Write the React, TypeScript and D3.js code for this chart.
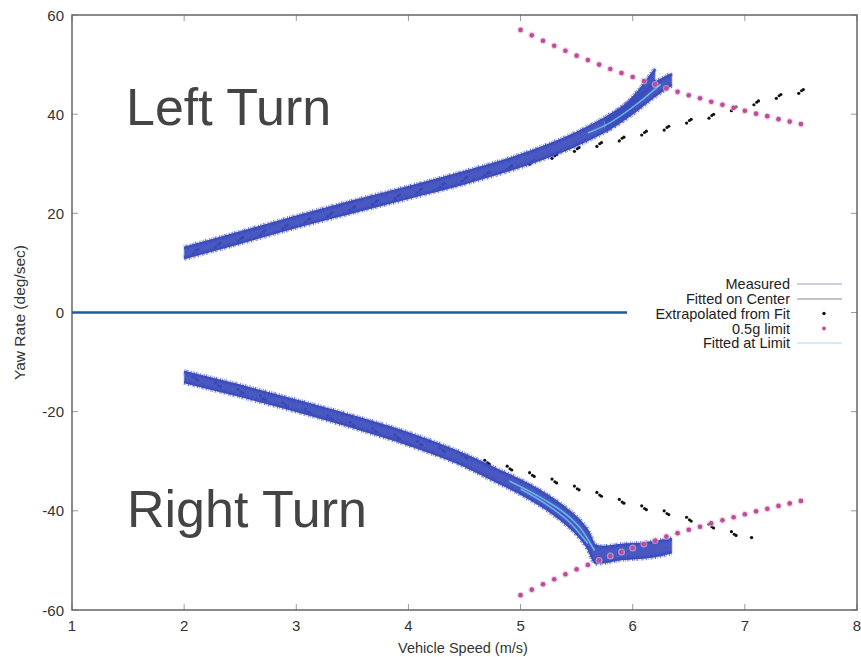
import React from "react";
import * as d3 from "d3";

// ---------- data ----------
const xTicks = [1, 2, 3, 4, 5, 6, 7, 8];
const yTicks = [-60, -40, -20, 0, 20, 40, 60];

// Measured, left turn (centre of the noisy band and its half width)
const leftSpeed = [2.0, 2.5, 3.0, 3.5, 4.0, 4.5, 5.0, 5.5, 5.8, 6.0, 6.2, 6.35];
const leftYaw = [12.0, 15.1, 18.3, 21.3, 24.2, 27.2, 30.6, 35.0, 38.5, 41.5, 45.0, 47.0];
const leftHalf = [1.05, 1.05, 1.05, 1.1, 1.1, 1.15, 1.15, 1.25, 1.35, 1.35, 1.3, 1.1];
// second run that ends a little earlier (upper prong)
const leftProngSpeed = [5.75, 5.9, 6.05, 6.2];
const leftProngYaw = [37.6, 40.0, 43.5, 48.0];
const leftProngHalf = [1.0, 1.1, 1.1, 1.1];

// Measured, right turn
const rightSpeed = [2.0, 2.5, 3.0, 3.5, 4.0, 4.5, 4.75, 5.0, 5.25, 5.4, 5.5, 5.6, 5.67, 5.75, 5.9, 6.1, 6.25, 6.35];
const rightYaw = [-13.0, -15.8, -18.8, -22.0, -25.5, -29.8, -32.5, -35.2, -38.5, -41.0, -43.0, -45.8, -48.8, -48.8, -48.3, -48.0, -47.5, -47.0];
const rightHalf = [1.05, 1.05, 1.05, 1.1, 1.15, 1.15, 1.25, 1.35, 1.45, 1.55, 1.65, 1.75, 1.75, 1.55, 1.45, 1.45, 1.45, 1.35];

// Fitted at limit
const fitLimLeftSpeed = [5.6, 5.8, 6.0, 6.25];
const fitLimLeftYaw = [36.2, 38.3, 41.4, 46.0];
const fitLimRightASpeed = [4.9, 5.2, 5.4, 5.55, 5.66];
const fitLimRightAYaw = [-34.0, -37.6, -40.6, -44.0, -48.0];
const fitLimRightBSpeed = [5.0, 5.25, 5.45, 5.6];
const fitLimRightBYaw = [-35.6, -39.0, -42.6, -46.6];

// Extrapolated from fit
const extLeftSpeed = [2.1, 2.3, 2.5, 2.7, 2.9, 3.1, 3.3, 3.5, 3.7, 3.9, 4.1, 4.3, 4.5, 4.7, 4.9, 5.1, 5.3, 5.5, 5.7, 5.9, 6.1, 6.3, 6.5, 6.7, 6.9, 7.1, 7.3, 7.5];
const extLeftYaw = [12.3, 13.6, 14.8, 16.1, 17.3, 18.6, 19.8, 21.0, 22.2, 23.4, 24.6, 25.7, 26.9, 28.0, 29.2, 30.3, 31.5, 32.9, 33.9, 35.0, 36.2, 37.2, 38.6, 39.6, 41.1, 42.3, 43.6, 44.6];
const extRightSpeed = [2.1, 2.3, 2.5, 2.7, 2.9, 3.1, 3.3, 3.5, 3.7, 3.9, 4.1, 4.3, 4.5, 4.7, 4.9, 5.1, 5.3, 5.5, 5.7, 5.9, 6.1, 6.3, 6.5, 6.7, 6.9];
const extRightYaw = [-13.3, -14.6, -15.9, -17.2, -18.6, -19.9, -21.2, -22.5, -23.8, -25.1, -26.4, -27.7, -29.0, -30.2, -31.4, -32.7, -34.0, -35.4, -36.7, -38.1, -39.4, -40.4, -41.7, -43.1, -44.6];
const extRightTailSpeed = [7.06];
const extRightTailYaw = [-45.4];

// 0.5 g limit
const limitSpeed = [5.0, 5.1, 5.2, 5.3, 5.4, 5.5, 5.6, 5.7, 5.8, 5.9, 6.0, 6.1, 6.2, 6.3, 6.4, 6.5, 6.6, 6.7, 6.8, 6.9, 7.0, 7.1, 7.2, 7.3, 7.4, 7.5];
const limitUpperYaw = [57.0, 55.9, 54.8, 53.8, 52.8, 51.8, 50.9, 50.0, 49.1, 48.3, 47.5, 46.7, 46.0, 45.2, 44.5, 43.8, 43.2, 42.5, 41.9, 41.3, 40.7, 40.1, 39.6, 39.0, 38.5, 38.0];
const limitLowerYaw = [-57.0, -55.9, -54.8, -53.8, -52.8, -51.8, -50.9, -50.0, -49.1, -48.3, -47.5, -46.7, -46.0, -45.2, -44.5, -43.8, -43.2, -42.5, -41.9, -41.3, -40.7, -40.1, -39.6, -39.0, -38.5, -38.0];

// zero reference line
const zeroSpeed = [1.0, 5.95];
const zeroYaw = [0, 0];

const legendLabels = ["Measured", "Fitted on Center", "Extrapolated from Fit", "0.5g limit", "Fitted at Limit"];

// ---------- layout ----------
const W = 861;
const H = 657;
const x = d3.scaleLinear().domain([1, 8]).range([72, 857]);
const y = d3.scaleLinear().domain([-60, 60]).range([610, 15]);

const FONT = "'Liberation Sans', Arial, Helvetica, sans-serif";
const BAND = "#3b4cbc";

type P = { s: number; v: number; h?: number };
const zip = (s: number[], v: number[], h?: number[]): P[] =>
  s.map((d, i) => ({ s: d, v: v[i], h: h ? h[i] : 0 }));

const area = d3
  .area<P>()
  .x((d) => x(d.s))
  .y0((d) => y(d.v - (d.h as number)))
  .y1((d) => y(d.v + (d.h as number)))
  .curve(d3.curveMonotoneX);
const upper = d3
  .line<P>()
  .x((d) => x(d.s))
  .y((d) => y(d.v + (d.h as number)))
  .curve(d3.curveMonotoneX);
const lower = d3
  .line<P>()
  .x((d) => x(d.s))
  .y((d) => y(d.v - (d.h as number)))
  .curve(d3.curveMonotoneX);
const line = d3
  .line<P>()
  .x((d) => x(d.s))
  .y((d) => y(d.v))
  .curve(d3.curveMonotoneX);

function Band({ data }: { data: P[] }) {
  return (
    <g>
      <path d={area(data) || ""} fill={BAND} fillOpacity={0.93} stroke="#8a96da" strokeWidth={1.5} strokeOpacity={0.45} />
      <path d={upper(data) || ""} fill="none" stroke={BAND} strokeWidth={5.5} strokeDasharray="0.7 1.1 1.3 0.8 0.5 1.9 1 1.3 0.6 0.9" strokeOpacity={0.75} />
      <path d={lower(data) || ""} fill="none" stroke={BAND} strokeWidth={5.5} strokeDasharray="1.1 0.9 0.6 1.7 1.2 1.1 0.5 2.1" strokeOpacity={0.75} />
      <path d={upper(data) || ""} fill="none" stroke={BAND} strokeWidth={2.2} />
      <path d={lower(data) || ""} fill="none" stroke={BAND} strokeWidth={2.2} />
    </g>
  );
}

function ExtDots({ data, dir }: { data: P[]; dir: number }) {
  return (
    <g fill="#111">
      {data.map((d, i) => (
        <g key={i}>
          <circle cx={x(d.s) - 2.2} cy={y(d.v) + 2 * dir} r={1.6} />
          <circle cx={x(d.s) + 0.6} cy={y(d.v) - 0.6 * dir} r={1.5} />
          <circle cx={x(d.s) + 2.4} cy={y(d.v) - 1.8 * dir} r={1.6} />
        </g>
      ))}
    </g>
  );
}

function LimitDots({ data }: { data: P[] }) {
  return (
    <g>
      {data.map((d, i) => (
        <g key={i}>
          <circle cx={x(d.s)} cy={y(d.v)} r={3.5} fill="#e6c0da" opacity={0.6} />
          <circle cx={x(d.s)} cy={y(d.v)} r={2.3} fill="#bf4a98" />
        </g>
      ))}
    </g>
  );
}

export default function App() {
  const [x0, x1] = x.range();
  const [y0, y1] = y.range();
  const legendY = [284, 299, 313.5, 328.5, 343];
  return (
    <svg
      width={W}
      height={H}
      style={{ position: "absolute", left: 0, top: 0, background: "#fff" }}
      fontFamily={FONT}
    >
      <rect width={W} height={H} fill="#fff" />
      {/* ticks (mirrored) */}
      <g stroke="#999" strokeWidth={1}>
        {xTicks.map((t) => (
          <g key={"xt" + t}>
            <line x1={x(t)} x2={x(t)} y1={y0} y2={y0 - 6} />
            <line x1={x(t)} x2={x(t)} y1={y1} y2={y1 + 6} />
          </g>
        ))}
        {yTicks.map((t) => (
          <g key={"yt" + t}>
            <line x1={x0} x2={x0 + 6} y1={y(t)} y2={y(t)} />
            <line x1={x1} x2={x1 - 6} y1={y(t)} y2={y(t)} />
          </g>
        ))}
      </g>
      <rect x={x0} y={y1} width={x1 - x0} height={y0 - y1} fill="none" stroke="#666" strokeWidth={1.5} />

      {/* tick labels */}
      <g fill="#333" fontSize={15}>
        {xTicks.map((t) => (
          <text key={"xl" + t} x={x(t)} y={631} textAnchor="middle">
            {t}
          </text>
        ))}
        {yTicks.map((t) => (
          <text key={"yl" + t} x={64} y={y(t) + 5.5} textAnchor="end">
            {t}
          </text>
        ))}
      </g>
      <text x={463} y={653} textAnchor="middle" fontSize={14.5} fill="#333">
        Vehicle Speed (m/s)
      </text>
      <text transform={`translate(25,${y(0)}) rotate(-90)`} textAnchor="middle" fontSize={15.5} fill="#333">
        Yaw Rate (deg/sec)
      </text>

      {/* zero line */}
      <path d={line(zip(zeroSpeed, zeroYaw)) || ""} stroke="#1f5aa6" strokeWidth={2.5} fill="none" />

      {/* extrapolated (mostly hidden under the measured band) */}
      <ExtDots data={zip(extLeftSpeed, extLeftYaw)} dir={1} />
      <ExtDots data={zip(extRightSpeed, extRightYaw)} dir={-1} />
      <g fill="#111">
        {zip(extRightTailSpeed, extRightTailYaw).map((d, i) => (
          <circle key={i} cx={x(d.s)} cy={y(d.v)} r={1.7} />
        ))}
      </g>

      {/* measured bands */}
      <Band data={zip(leftSpeed, leftYaw, leftHalf)} />
      <Band data={zip(leftProngSpeed, leftProngYaw, leftProngHalf)} />
      <Band data={zip(rightSpeed, rightYaw, rightHalf)} />

      {/* fitted at limit */}
      <g fill="none" stroke="#6cc3ee" strokeWidth={1.6} strokeOpacity={0.85}>
        <path d={line(zip(fitLimLeftSpeed, fitLimLeftYaw)) || ""} />
        <path d={line(zip(fitLimRightASpeed, fitLimRightAYaw)) || ""} />
        <path d={line(zip(fitLimRightBSpeed, fitLimRightBYaw)) || ""} />
      </g>

      {/* 0.5 g limit */}
      <LimitDots data={zip(limitSpeed, limitUpperYaw)} />
      <LimitDots data={zip(limitSpeed, limitLowerYaw)} />

      {/* annotations */}
      <text x={126} y={125} fontSize={52} fill="#444">
        Left Turn
      </text>
      <text x={127} y={527} fontSize={52} fill="#444">
        Right Turn
      </text>

      {/* legend */}
      <g fontSize={14.5} fill="#222">
        {legendLabels.map((lab, i) => (
          <text key={lab} x={790} y={legendY[i] + 5} textAnchor="end">
            {lab}
          </text>
        ))}
        <line x1={797} x2={842} y1={legendY[0]} y2={legendY[0]} stroke="#9aa0c8" strokeWidth={1.2} />
        <line x1={797} x2={842} y1={legendY[1]} y2={legendY[1]} stroke="#8a8a8a" strokeWidth={1.2} />
        <circle cx={824} cy={legendY[2]} r={1.7} fill="#111" />
        <circle cx={824} cy={legendY[3]} r={1.9} fill="#bf4a98" />
        <line x1={797} x2={842} y1={legendY[4]} y2={legendY[4]} stroke="#a8d8ee" strokeWidth={1.2} />
      </g>
    </svg>
  );
}
